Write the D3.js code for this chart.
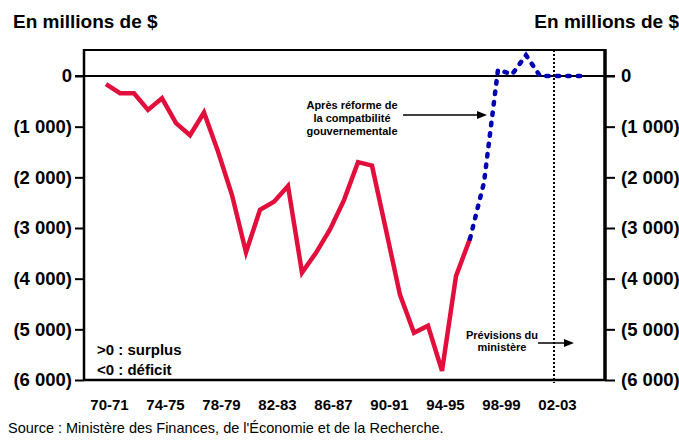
<!DOCTYPE html>
<html><head><meta charset="utf-8">
<script src="https://cdn.jsdelivr.net/npm/d3@7/dist/d3.min.js"></script>
<style>
body{margin:0;background:#fff}
text{font-family:Arial,"Liberation Sans",sans-serif}
</style>
</head><body>
<svg id="c" width="679" height="441"></svg>
<script>
// ---------- DATA ----------
const years = ["70-71","71-72","72-73","73-74","74-75","75-76","76-77","77-78","78-79","79-80",
  "80-81","81-82","82-83","83-84","84-85","85-86","86-87","87-88","88-89","89-90",
  "90-91","91-92","92-93","93-94","94-95","95-96","96-97","97-98","98-99","99-00",
  "00-01","01-02","02-03","03-04","04-05"];
const actualYears = ["70-71","71-72","72-73","73-74","74-75","75-76","76-77","77-78","78-79","79-80",
  "80-81","81-82","82-83","83-84","84-85","85-86","86-87","87-88","88-89","89-90",
  "90-91","91-92","92-93","93-94","94-95","95-96","96-97"];
const actualValues = [-160,-340,-340,-670,-440,-930,-1170,-720,-1490,-2350,
  -3480,-2640,-2480,-2170,-3880,-3490,-3030,-2450,-1700,-1770,
  -3040,-4320,-5070,-4930,-5820,-3950,-3210];
const forecastYears = ["96-97","97-98","98-99","99-00","00-01","01-02","02-03","03-04","04-05"];
const forecastValues = [-3210,-2100,126,30,410,0,0,0,0];
const xTickLabels = ["70-71","74-75","78-79","82-83","86-87","90-91","94-95","98-99","02-03"];
const yTicks = [0,-1000,-2000,-3000,-4000,-5000,-6000];
const yTickLabels = ["0","(1 000)","(2 000)","(3 000)","(4 000)","(5 000)","(6 000)"];
const forecastStart = "02-03";

// ---------- LAYOUT ----------
const svg = d3.select("#c");
svg.append("rect").attr("width",679).attr("height",441).attr("fill","#fff");
const L = 84, R = 605, T = 50;
const x = d3.scalePoint().domain(years).range([106, 582]);
const y = d3.scaleLinear().domain([-6000, 0]).range([380, 76]);
const B = y(-6000);
const red = "#e20f3d", blue = "#0000b4";

// titles
svg.append("text").attr("x",13).attr("y",28).attr("font-size",19).attr("font-weight","bold")
  .text("En millions de $");
svg.append("text").attr("x",679).attr("y",28).attr("text-anchor","end").attr("font-size",19).attr("font-weight","bold")
  .text("En millions de $");

// axes
const yl = svg.append("g").attr("transform",`translate(${L},0)`)
  .call(d3.axisLeft(y).tickValues(yTicks).tickFormat((d,i)=>yTickLabels[i]).tickSize(9).tickPadding(3));
const yr = svg.append("g").attr("transform",`translate(${R},0)`)
  .call(d3.axisRight(y).tickValues(yTicks).tickFormat((d,i)=>yTickLabels[i]).tickSize(10).tickPadding(6));
[yl,yr].forEach(g=>{
  g.select(".domain").remove();
  g.selectAll(".tick line").attr("stroke","#000").attr("stroke-width",2);
  g.selectAll(".tick text").attr("font-size",18.5).attr("font-weight","bold").attr("fill","#000")
    .attr("font-family",'Arial,"Liberation Sans",sans-serif');
});
const xa = svg.append("g").attr("transform",`translate(0,${B})`)
  .call(d3.axisBottom(x).tickValues(xTickLabels).tickSize(0).tickPadding(19));
xa.select(".domain").remove();
xa.selectAll(".tick text").attr("font-size",15).attr("font-weight","bold").attr("fill","#000")
  .attr("dx",3).attr("font-family",'Arial,"Liberation Sans",sans-serif');

// frame
svg.append("line").attr("x1",L).attr("x2",R).attr("y1",T).attr("y2",T).attr("stroke","#000").attr("stroke-width",2);
svg.append("line").attr("x1",L).attr("x2",R).attr("y1",B).attr("y2",B).attr("stroke","#000").attr("stroke-width",2.5);
svg.append("line").attr("x1",L).attr("x2",L).attr("y1",T-1).attr("y2",B+1).attr("stroke","#000").attr("stroke-width",2.5);
svg.append("line").attr("x1",R).attr("x2",R).attr("y1",T-1).attr("y2",B+1).attr("stroke","#000").attr("stroke-width",3.5);
// zero line
svg.append("line").attr("x1",L-9).attr("x2",R+10).attr("y1",y(0)).attr("y2",y(0)).attr("stroke","#000").attr("stroke-width",2);

// forecast vertical line
svg.append("line").attr("x1",x(forecastStart)).attr("x2",x(forecastStart)).attr("y1",T).attr("y2",B+3)
  .attr("stroke","#000").attr("stroke-width",2).attr("stroke-dasharray","2,2");

// series
const line = d3.line().x(d=>x(d[0])).y(d=>y(d[1]));
svg.append("path").datum(actualYears.map((k,i)=>[k,actualValues[i]]))
  .attr("d",line).attr("fill","none").attr("stroke",red).attr("stroke-width",4.5).attr("stroke-linejoin","miter");
svg.append("path").datum(forecastYears.map((k,i)=>[k,forecastValues[i]]))
  .attr("d",line).attr("fill","none").attr("stroke",blue).attr("stroke-width",4.5)
  .attr("stroke-dasharray","2.5,8").attr("stroke-linecap","round");

// annotations
function arrow(x1,x2,yy){
  svg.append("line").attr("x1",x1).attr("x2",x2-8).attr("y1",yy).attr("y2",yy).attr("stroke","#000").attr("stroke-width",1.5);
  svg.append("path").attr("d",`M${x2},${yy}L${x2-10},${yy-4}L${x2-10},${yy+4}Z`).attr("fill","#000");
}
const a1 = svg.append("text").attr("text-anchor","middle").attr("font-size",11).attr("font-weight","bold");
[["Après réforme de",109],["la compatbilité",122],["gouvernementale",135]].forEach(([t,yy])=>
  a1.append("tspan").attr("x",352).attr("y",yy).text(t));
arrow(403,487,115);
const a2 = svg.append("text").attr("text-anchor","middle").attr("font-size",11).attr("font-weight","bold");
[["Prévisions du",339],["ministère",351]].forEach(([t,yy])=>
  a2.append("tspan").attr("x",502).attr("y",yy).text(t));
arrow(538,574,343);

svg.append("text").attr("x",97).attr("y",355).attr("font-size",15).attr("font-weight","bold").text(">0 : surplus");
svg.append("text").attr("x",97).attr("y",375).attr("font-size",15).attr("font-weight","bold").text("<0 : déficit");

svg.append("text").attr("x",8).attr("y",433).attr("font-size",14.5).text("Source : Ministère des Finances, de l'Économie et de la Recherche.");
</script>
</body></html>
